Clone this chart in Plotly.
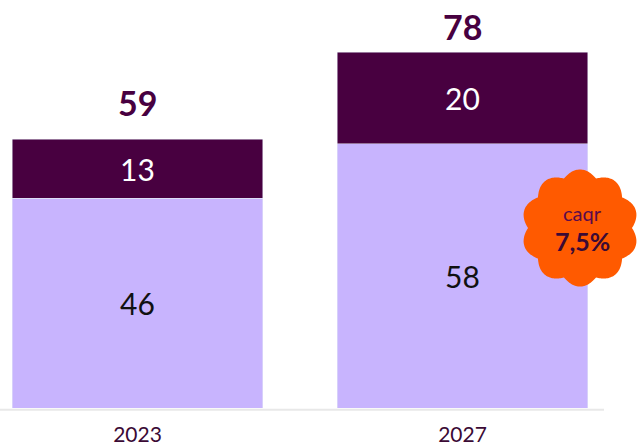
import numpy as np
import plotly.graph_objects as go

# data
years = ["2023", "2027"]
base_vals = [46, 58]
top_vals = [13, 20]
totals = [59, 78]
badge_title = "caqr"
badge_value = "7,5%"

LIGHT = "#c8b4fe"
DARK = "#480040"
INK = "#3b0a35"
ORANGE = "#ff5a00"
W, H, PLOT_H = 639, 446, 408

fig = go.Figure()
fig.add_trace(go.Bar(x=years, y=base_vals, marker_color=LIGHT, width=0.772,
                     text=[str(v) for v in base_vals], textposition="inside",
                     insidetextanchor="middle", constraintext="none",
                     textfont=dict(size=30, color="#111111", family="Lato", weight=400)))
fig.add_trace(go.Bar(x=years, y=top_vals, marker_color=DARK, width=0.772,
                     text=[str(v) for v in top_vals], textposition="inside",
                     insidetextanchor="middle", constraintext="none",
                     textfont=dict(size=30, color="white", family="Lato", weight=400)))

# totals above the bars
for i, (tot, shift) in enumerate(zip(totals, [37, 26])):
    fig.add_annotation(x=i, y=tot, text="<b>%d</b>" % tot, showarrow=False,
                       xref="x", yref="y", yanchor="middle", yshift=shift,
                       font=dict(size=34, color=DARK, family="Lato"))

# scalloped badge, drawn in paper coords with aspect correction
cx, cy = 580, 228
th = np.linspace(0, 2 * np.pi, 361)
r = 52 + 6.5 * np.abs(np.cos(5 * th + np.pi / 2))
px = (cx + r * np.cos(th)) / W
py = (PLOT_H - cy + r * np.sin(th)) / PLOT_H
path = "M" + " L".join("%.4f,%.4f" % (a, b) for a, b in zip(px, py)) + " Z"
fig.add_shape(type="path", path=path, xref="paper", yref="paper",
              fillcolor=ORANGE, line=dict(width=0))
fig.add_annotation(xref="paper", yref="paper", x=582 / W, y=(PLOT_H - 213) / PLOT_H,
                   xanchor="center", yanchor="middle", text=badge_title, showarrow=False,
                   font=dict(size=20, color="#5a0a4c", family="Lato"))
fig.add_annotation(xref="paper", yref="paper", x=582 / W, y=(PLOT_H - 241) / PLOT_H,
                   xanchor="center", yanchor="middle", text="<b>" + badge_value + "</b>",
                   showarrow=False, font=dict(size=25, color=INK, family="Lato"))

# baseline
fig.add_shape(type="line", xref="paper", yref="paper", x0=0, x1=604 / W, y0=-0.004, y1=-0.004,
              line=dict(color="#e8e8e8", width=2))

fig.update_layout(
    barmode="stack", width=W, height=H, showlegend=False,
    margin=dict(l=0, r=0, t=0, b=H - PLOT_H),
    plot_bgcolor="white", paper_bgcolor="white",
    xaxis=dict(type="category", range=[-0.423, 1.543], showgrid=False, showline=False, ticks="",
               tickfont=dict(size=21, color=INK, family="Lato"), ticklabelstandoff=12),
    yaxis=dict(range=[0, 89.5], visible=False),
)
fig.write_html("out.html", config={"displayModeBar": False},
               post_script="document.body.style.margin='0';")
